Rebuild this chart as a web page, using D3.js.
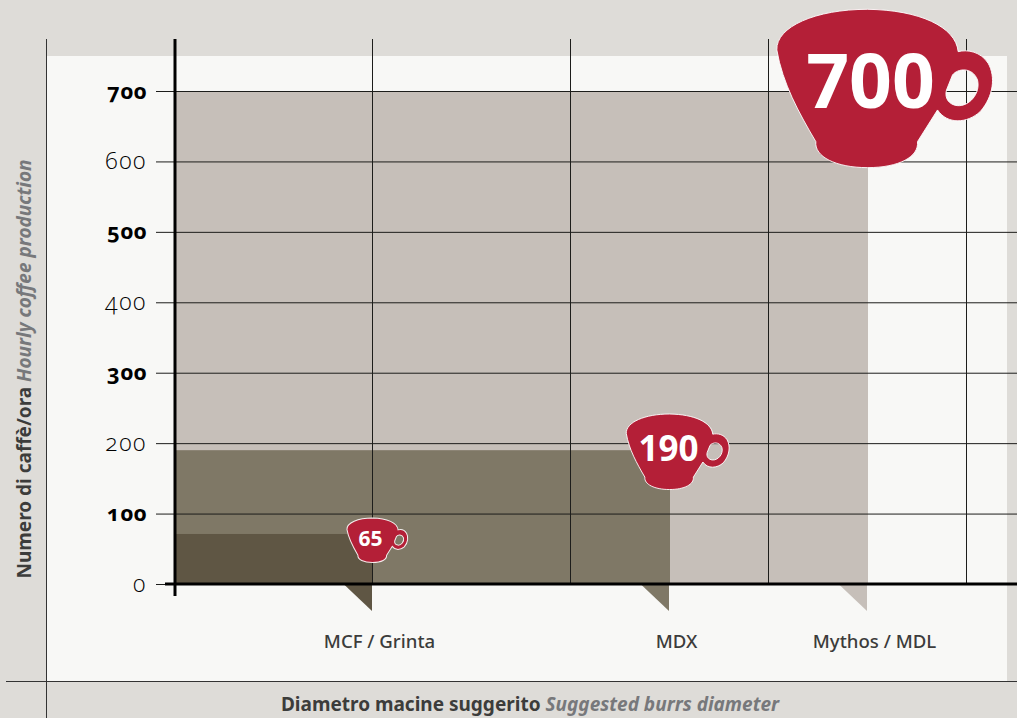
<!DOCTYPE html>
<html lang="en">
<head>
    <meta charset="UTF-8">
    <title>Numero di caffè/ora</title>
    <script src="https://cdnjs.cloudflare.com/ajax/libs/d3/7.8.5/d3.min.js"></script>
    <style>
        html, body { margin: 0; padding: 0; background: #dedcd8; overflow: hidden; }
        text { font-family: "Noto Sans", sans-serif; }
    </style>
</head>
<body>
<div id="chart"></div>
<script>
    // valori
    var categories = ['MCF / Grinta', 'MDX', 'Mythos / MDL'];
    var cupValues = [65, 190, 700];
    var barTops = [71, 190, 700];
    var barEnds = [1, 2.5, 3.5];
    var yTicks = [0, 100, 200, 300, 400, 500, 600, 700];
    var xGrid = [1, 2, 3, 4];
    var barColors = ['#5f5644', '#7f7866', '#c6bfb9'];

    var width = 1017, height = 718;
    var svg = d3.select('#chart').append('svg')
        .attr('width', width)
        .attr('height', height)
        .style('display', 'block');

    var x = d3.scaleLinear().domain([0, 1]).range([174.5, 372.5]);
    var y = d3.scaleLinear().domain([0, 700]).range([584, 91]);
    var cupSize = d3.scaleLinear().domain([65, 190, 700]).range([0.282, 0.477, 1]);
    var cupShift = d3.scaleLinear().domain([65, 190, 700]).range([2, 1.5, -2.7]);
    var numShift = d3.scaleLinear().domain([65, 190, 700]).range([-2, -1, 3]);
    var numSize = d3.scaleLinear().domain([65, 190, 700]).range([21, 35, 75]);

    // sfondo
    svg.append('rect').attr('width', width).attr('height', height).attr('fill', '#dedcd8');
    svg.append('rect').attr('x', 47).attr('y', 56).attr('width', 960).attr('height', 625).attr('fill', '#f8f8f6');

    // barre, dalla piu alta alla piu bassa
    var order = [2, 1, 0];
    svg.selectAll('rect.bar')
        .data(order)
        .enter()
        .append('rect')
        .attr('class', 'bar')
        .attr('x', x(0))
        .attr('y', function (i) { return y(barTops[i]); })
        .attr('width', function (i) { return x(barEnds[i]) - x(0) + 0.5; })
        .attr('height', function (i) { return y(0) - y(barTops[i]); })
        .attr('fill', function (i) { return barColors[i]; });

    // triangolini sotto l'asse
    svg.selectAll('path.tag')
        .data(order)
        .enter()
        .append('path')
        .attr('class', 'tag')
        .attr('transform', function (i) { return 'translate(' + x(barEnds[i]) + ',' + y(0) + ')'; })
        .attr('d', 'M-29,0L-0.5,0L-0.5,27Z')
        .attr('fill', function (i) { return barColors[i]; });

    // griglia orizzontale e etichette
    var yAxis = d3.axisLeft(y)
        .tickValues(yTicks)
        .tickSize(-861)
        .tickPadding(9);
    var yG = svg.append('g').attr('transform', 'translate(156,0)').call(yAxis);
    yG.select('.domain').remove();
    yG.selectAll('line').attr('stroke', '#1d1d1b').attr('stroke-width', 1);
    yG.selectAll('text')
        .attr('fill', '#000')
        .style('font-family', '"Open Sans", sans-serif')
        .style('font-feature-settings', '"onum"')
        .style('font-size', function (d) { return d % 200 === 100 ? '22px' : '23px'; })
        .style('letter-spacing', function (d) { return d % 200 === 100 ? '0.6px' : '1.6px'; })
        .style('font-weight', function (d) { return d % 200 === 100 ? 700 : 300; });

    // griglia verticale
    var xAxis = d3.axisBottom(x)
        .tickValues(xGrid)
        .tickSize(-545)
        .offset(0)
        .tickFormat('');
    var xG = svg.append('g').attr('transform', 'translate(0,' + y(0) + ')').call(xAxis);
    xG.select('.domain').remove();
    xG.selectAll('line').attr('stroke', '#1d1d1b').attr('stroke-width', 1);

    // assi spessi e linee di cornice
    svg.append('line').attr('x1', 165).attr('x2', width).attr('y1', y(0)).attr('y2', y(0)).attr('stroke', '#000').attr('stroke-width', 3);
    svg.append('line').attr('x1', x(0) + 0.5).attr('x2', x(0) + 0.5).attr('y1', 39).attr('y2', 596).attr('stroke', '#000').attr('stroke-width', 3);
    svg.append('line').attr('x1', 46.5).attr('x2', 46.5).attr('y1', 39).attr('y2', height).attr('stroke', '#333').attr('stroke-width', 1);
    svg.append('line').attr('x1', 6).attr('x2', width).attr('y1', 681.5).attr('y2', 681.5).attr('stroke', '#333').attr('stroke-width', 1);

    // nomi delle macine
    svg.selectAll('text.cat')
        .data(categories)
        .enter()
        .append('text')
        .attr('class', 'cat')
        .attr('x', function (d, i) { return x(barEnds[i]) + 7; })
        .attr('y', 648)
        .attr('text-anchor', 'middle')
        .attr('fill', '#3c3c3b')
        .style('font-size', '18.6px')
        .style('font-weight', 500)
        .text(function (d) { return d; });

    // tazzine
    var cupPath = 'M0,-237C155,-235 265,-185 272,-110C300,-117 340,-110 362,-75C385,-35 378,25 338,70C300,105 240,110 210,65' +
        'L150,160C155,205 95,238 0,238C-95,238 -160,205 -155,160C-205,75 -255,-15 -272,-115C-275,-185 -155,-237 0,-237Z' +
        'M255,-40C270,-60 315,-65 330,-25C340,15 305,55 270,52C245,50 230,30 237,5Z';
    var cups = svg.selectAll('g.cup')
        .data(cupValues)
        .enter()
        .append('g')
        .attr('class', 'cup')
        .attr('transform', function (d, i) {
            return 'translate(' + x(barEnds[i]) + ',' + (y(d) + cupShift(d)) + ')';
        });
    cups.append('path')
        .attr('d', cupPath)
        .attr('transform', function (d) { return 'scale(' + cupSize(d) / 3 + ')'; })
        .attr('fill', '#b41f37')
        .attr('fill-rule', 'evenodd')
        .attr('stroke', '#fff')
        .attr('stroke-width', function (d) { return 3 / cupSize(d); })
        .attr('stroke-opacity', 0.9);
    cups.append('text')
        .attr('x', function (d) { return numShift(d); })
        .attr('y', function (d) { return 20 * cupSize(d); })
        .attr('text-anchor', 'middle')
        .attr('fill', '#fff')
        .style('font-family', '"Open Sans", sans-serif')
        .style('font-weight', 700)
        .style('font-size', function (d) { return numSize(d) + 'px'; })
        .text(function (d) { return d; });

    // titoli degli assi
    var xTitle = svg.append('text')
        .attr('x', 530)
        .attr('y', 711)
        .attr('text-anchor', 'middle')
        .style('font-size', '19px');
    xTitle.append('tspan').attr('fill', '#3c3c3b').style('font-weight', 700).text('Diametro macine suggerito ');
    xTitle.append('tspan').attr('fill', '#77787b').style('font-weight', 700).style('font-style', 'italic').text('Suggested burrs diameter');

    var yTitle = svg.append('text')
        .attr('transform', 'translate(31,369) rotate(-90)')
        .attr('text-anchor', 'middle')
        .style('font-size', '19px');
    yTitle.append('tspan').attr('fill', '#3c3c3b').style('font-weight', 700).text('Numero di caffè/ora ');
    yTitle.append('tspan').attr('fill', '#77787b').style('font-weight', 700).style('font-style', 'italic').text('Hourly coffee production');
</script>
</body>
</html>
